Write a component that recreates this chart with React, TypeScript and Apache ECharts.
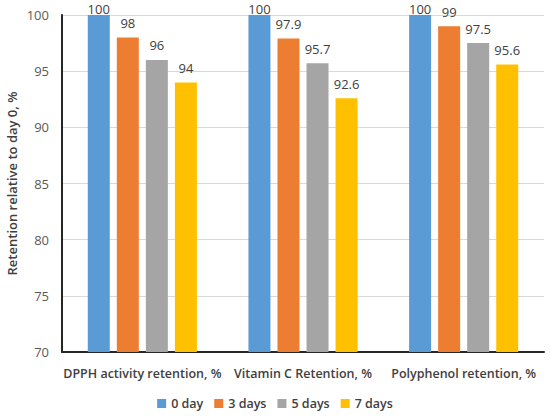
import React, { useEffect, useRef } from "react";
import * as echarts from "echarts";

const categories = ["DPPH activity retention, %", "Vitamin C Retention, %", "Polyphenol retention, %"];
const seriesNames = ["0 day", "3 days", "5 days", "7 days"];
const day0 = [100, 100, 100];
const day3 = [98, 97.9, 99];
const day5 = [96, 95.7, 97.5];
const day7 = [94, 92.6, 95.6];
const colors = ["#5B9BD5", "#ED7D31", "#A5A5A5", "#FFC000"];

export default function App() {
  const ref = useRef<HTMLDivElement>(null);
  useEffect(() => {
    const chart = echarts.init(ref.current!, null, { renderer: "svg" });
    const font = "'Open Sans', 'Liberation Sans', sans-serif";
    const data = [day0, day3, day5, day7];
    chart.setOption({
      animation: false,
      textStyle: { fontFamily: font },
      grid: { left: 62, right: 6, top: 15, bottom: 65, outerBoundsMode: "none", containLabel: false },
      legend: {
        top: 397,
        left: "center",
        padding: 0,
        itemWidth: 9,
        itemHeight: 9,
        itemGap: 11,
        icon: "rect",
        textStyle: { fontSize: 12.5, fontWeight: 600, color: "#404040", fontFamily: font },
        data: seriesNames,
      },
      xAxis: {
        type: "category",
        data: categories,
        axisLine: { lineStyle: { color: "#262626", width: 2 } },
        axisTick: { show: false },
        axisLabel: { fontSize: 12.5, fontWeight: 600, color: "#404040", margin: 15, interval: 0 },
      },
      yAxis: {
        type: "value",
        min: 70,
        max: 100,
        interval: 5,
        name: "Retention relative to day 0, %",
        nameLocation: "middle",
        nameGap: 44,
        nameMoveOverlap: false,
        nameTextStyle: { fontSize: 13, fontWeight: 600, color: "#404040" },
        axisLine: { show: true, lineStyle: { color: "#262626", width: 2 } },
        axisTick: { show: false },
        axisLabel: { fontSize: 13, color: "#595959", margin: 13 },
        splitLine: { lineStyle: { color: "#D9D9D9" } },
      },
      series: seriesNames.map((n, i) => ({
        name: n,
        type: "bar",
        data: data[i].map((v) => ({
          value: v,
          label: { distance: v >= 100 ? 1 : 9 },
        })),
        barWidth: 22,
        barGap: "32%",
        itemStyle: { color: colors[i] },
        label: { show: true, position: "top", distance: 9, fontSize: 13, lineHeight: 11, color: "#404040" },
      })),
    });
    return () => chart.dispose();
  }, []);
  return <div ref={ref} style={{ position: "absolute", left: 0, top: 0, width: 550, height: 417 }} />;
}
